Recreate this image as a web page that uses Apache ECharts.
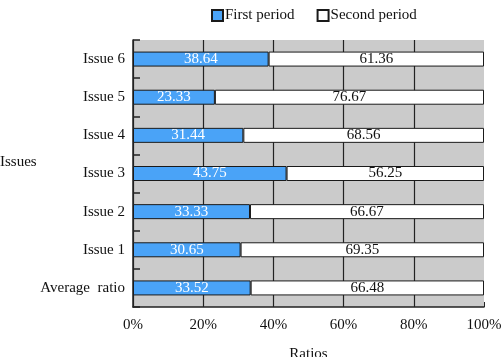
<!DOCTYPE html>
<html>
<head>
<meta charset="utf-8">
<script src="https://cdn.jsdelivr.net/npm/echarts@6/dist/echarts.min.js"></script>
<style>
  html, body { margin: 0; padding: 0; background: #fff; }
  #chart { width: 502px; height: 357px; }
</style>
</head>
<body>
<div id="chart"></div>
<script>
const categories = ["Average  ratio", "Issue 1", "Issue 2", "Issue 3", "Issue 4", "Issue 5", "Issue 6"];
const firstPeriod = [33.52, 30.65, 33.33, 43.75, 31.44, 23.33, 38.64];
const secondPeriod = [66.48, 69.35, 66.67, 56.25, 68.56, 76.67, 61.36];

const font = "'Liberation Serif', 'Times New Roman', serif";
const chart = echarts.init(document.getElementById("chart"));

chart.setOption({
  animation: false,
  textStyle: { fontFamily: font },
  legend: {
    top: 3,
    left: 206,
    icon: "rect",
    itemWidth: 11,
    itemHeight: 11,
    itemGap: 22,
    textStyle: { fontFamily: font, fontSize: 15, color: "#111", padding: [0, 0, 0, -3] },
  },
  // y axis name sits a bit above the middle in the original, so draw it as text
  graphic: [
    {
      type: "text",
      left: 0,
      top: 155,
      style: { text: "Issues", fontFamily: font, fontSize: 15, fill: "#111" },
    },
  ],
  grid: {
    left: 133,
    right: 18,
    top: 40,
    bottom: 50,
    containLabel: false,
    outerBoundsMode: "none",
    show: true,
    backgroundColor: "#cbcbcb",
    borderWidth: 0,
  },
  xAxis: {
    type: "value",
    min: 0,
    max: 100,
    interval: 20,
    name: "Ratios",
    nameLocation: "middle",
    nameGap: 40,
    nameTextStyle: { fontFamily: font, fontSize: 15, color: "#111" },
    axisLine: { show: true, lineStyle: { color: "#222", width: 1.5 } },
    axisTick: { show: true, inside: true, length: 5, lineStyle: { color: "#222" } },
    axisLabel: { formatter: "{value}%", fontFamily: font, fontSize: 15, color: "#111", margin: 11 },
    splitLine: {
      show: true,
      lineStyle: { color: ["#222", "#222", "#222", "#222", "#222", "rgba(0,0,0,0)"], width: 1.2 },
    },
  },
  yAxis: {
    type: "category",
    data: categories,
    axisLine: { show: true, lineStyle: { color: "#222", width: 1.5 } },
    axisTick: { show: true, inside: true, length: 7, lineStyle: { color: "#222", width: 1.5 } },
    axisLabel: { fontFamily: font, fontSize: 15, color: "#111", margin: 8 },
    splitLine: { show: false },
  },
  series: [
    {
      name: "First period",
      type: "bar",
      stack: "total",
      data: firstPeriod,
      barWidth: 15,
      itemStyle: { color: "#4aa3f7", borderColor: "#1a1a1a", borderWidth: 1 },
      label: { show: true, position: "inside", color: "#fff", fontFamily: font, fontSize: 15 },
    },
    {
      name: "Second period",
      type: "bar",
      stack: "total",
      data: secondPeriod,
      barWidth: 15,
      itemStyle: { color: "#ffffff", borderColor: "#1a1a1a", borderWidth: 1 },
      label: { show: true, position: "inside", color: "#111", fontFamily: font, fontSize: 15 },
    },
  ],
});
</script>
</body>
</html>
